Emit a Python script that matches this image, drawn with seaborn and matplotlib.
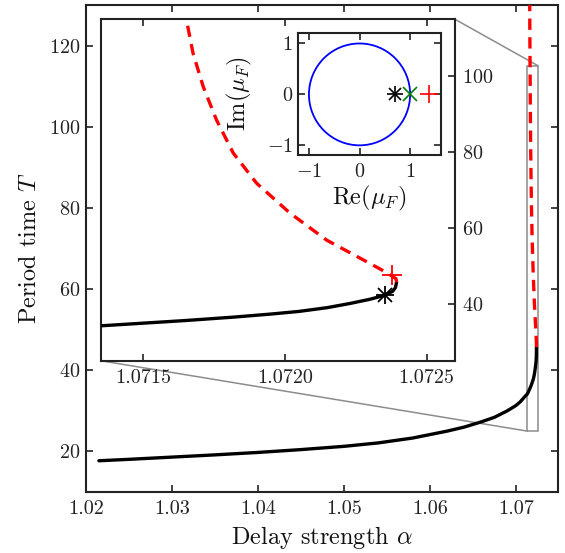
import numpy as np
import pandas as pd
import matplotlib
matplotlib.use("Agg")
import matplotlib.pyplot as plt
import seaborn as sns
from matplotlib.patches import Circle
from matplotlib.ticker import FixedLocator, FixedFormatter
from mpl_toolkits.axes_grid1.inset_locator import mark_inset

# ---------------- data ----------------
stable_alpha = [1.0215, 1.0250, 1.0300, 1.0350, 1.0400, 1.0450, 1.0500,
                1.0540, 1.0580, 1.0620, 1.0640, 1.0660, 1.0675, 1.0690,
                1.0700, 1.0705, 1.0710, 1.07135, 1.07150, 1.07165, 1.07182,
                1.07195, 1.07205, 1.07215, 1.07223, 1.07230, 1.07235,
                1.07238, 1.07239, 1.072394]
stable_T = [17.7, 18.05, 18.6, 19.15, 19.75, 20.45, 21.25,
            22.1, 23.3, 25.0, 26.0, 27.3, 28.4, 30.0,
            31.3, 32.2, 33.4, 34.2, 34.9, 35.6, 36.5,
            37.3, 38.0, 39.0, 40.1, 41.2, 42.2,
            43.3, 44.3, 45.7]

unstable_alpha = [1.072394, 1.072392, 1.072376, 1.072340, 1.072276,
                  1.072147, 1.072018, 1.071900, 1.071818, 1.071759,
                  1.071712, 1.071676, 1.071653, 1.071630, 1.071610,
                  1.071600]
unstable_T = [45.7, 46.6, 47.4, 49.0, 51.6,
              56.8, 63.9, 71.8, 79.7, 88.4,
              97.2, 106.0, 114.7, 122.0, 130.0,
              136.0]

star_alpha, star_T = 1.072353, 42.3      # black asterisk
plus_alpha, plus_T = 1.072376, 47.6      # red plus

floquet_black_re, floquet_black_im = 0.70, 0.0
floquet_green_re, floquet_green_im = 1.00, 0.0
floquet_red_re, floquet_red_im = 1.37, 0.0

main_xticks = [1.02, 1.03, 1.04, 1.05, 1.06, 1.07]
main_xticklabels = ["1.02", "1.03", "1.04", "1.05", "1.06", "1.07"]
main_yticks = [20, 40, 60, 80, 100, 120]
inset_xticks = [1.0715, 1.0720, 1.0725]
inset_xticklabels = ["1.0715", "1.0720", "1.0725"]
inset_yticks = [40, 60, 80, 100]
circle_ticks = [-1, 0, 1]

# ---------------- style ----------------
sns.set_theme(style="ticks")
plt.rcParams.update({
    "font.family": "serif",
    "font.serif": ["cmr10"],
    "mathtext.fontset": "cm",
    "axes.formatter.use_mathtext": True,
    "axes.unicode_minus": True,
    "axes.linewidth": 1.5,
    "axes.edgecolor": "#222222",
    "xtick.color": "#222222",
    "ytick.color": "#222222",
    "xtick.labelcolor": "#222222",
    "ytick.labelcolor": "#222222",
    "axes.labelcolor": "#111111",
})

TICK_FS = 14.5
LABEL_FS = 17.5
LW = 2.4
DASH = [3.4, 2.2]

fig = plt.figure(figsize=(5.65, 5.53), dpi=100)

# ---------------- main axes ----------------
ax = fig.add_axes([0.1522, 0.1103, 0.8354, 0.8807])
sns.lineplot(x=stable_alpha, y=stable_T, ax=ax, color="black", lw=LW,
             sort=False, estimator=None, zorder=3)
sns.lineplot(x=unstable_alpha, y=unstable_T, ax=ax, color="red", lw=LW,
             sort=False, estimator=None, zorder=3)
ax.lines[-1].set_dashes(DASH)
ax.set_xlim(1.02, 1.0749)
ax.set_ylim(10, 130)
ax.xaxis.set_major_locator(FixedLocator(main_xticks))
ax.xaxis.set_major_formatter(FixedFormatter(main_xticklabels))
ax.yaxis.set_major_locator(FixedLocator(main_yticks))
ax.tick_params(direction="in", top=True, right=True, length=5, width=1.2,
               labelsize=TICK_FS)
ax.tick_params(axis="x", pad=6)
ax.tick_params(axis="y", pad=4)
ax.set_xlabel(r"Delay strength $\alpha$", fontsize=LABEL_FS, labelpad=4)
ax.set_ylabel(r"Period time $T$", fontsize=LABEL_FS, labelpad=6)

# ---------------- zoom inset ----------------
axin = fig.add_axes([0.1782, 0.3477, 0.6271, 0.6174])
sns.lineplot(x=stable_alpha, y=stable_T, ax=axin, color="black", lw=LW,
             sort=False, estimator=None, zorder=3)
sns.lineplot(x=unstable_alpha, y=unstable_T, ax=axin, color="red", lw=LW,
             sort=False, estimator=None, zorder=3)
axin.lines[-1].set_dashes(DASH)
axin.plot([star_alpha], [star_T], marker="+", color="black", ms=13, mew=1.3,
          ls="none", zorder=4)
axin.plot([star_alpha], [star_T], marker="x", color="black", ms=10, mew=1.3,
          ls="none", zorder=4)
axin.plot([plus_alpha], [plus_T], marker="+", color="red", ms=15, mew=1.3,
          ls="none", zorder=4)
axin.set_xlim(1.07135, 1.0726)
axin.set_ylim(25, 115)
axin.xaxis.set_major_locator(FixedLocator(inset_xticks))
axin.xaxis.set_major_formatter(FixedFormatter(inset_xticklabels))
axin.yaxis.set_major_locator(FixedLocator(inset_yticks))
axin.tick_params(axis="x", direction="in", top=True, bottom=True, length=5,
                 width=1.2, labelsize=TICK_FS, pad=6)
axin.tick_params(axis="y", direction="in", left=False, right=True,
                 labelleft=False, labelright=True, length=5, width=1.2,
                 labelsize=TICK_FS, pad=5)
axin.set_xlabel("")
axin.set_ylabel("")

# zoom rectangle + connectors (upper-right and lower-left corners)
rect, con1, con2 = mark_inset(ax, axin, loc1=1, loc2=3, fc="none",
                              ec="0.55", lw=1.1)
rect.set_zorder(1.5)
for con in (con1, con2):
    con.remove()
    ax.add_artist(con)
    con.set_clip_on(False)
    con.set_zorder(1.5)

# ---------------- Floquet multipliers inset ----------------
axc = fig.add_axes([0.5280, 0.7197, 0.2525, 0.2201])
axc.add_patch(Circle((0, 0), 1.0, fill=False, ec="blue", lw=1.3))
axc.plot([floquet_black_re], [floquet_black_im], marker="+", color="black",
         ms=11, mew=1.2, ls="none")
axc.plot([floquet_black_re], [floquet_black_im], marker="x", color="black",
         ms=8.5, mew=1.2, ls="none")
axc.plot([floquet_green_re], [floquet_green_im], marker="x", color="green",
         ms=9.5, mew=1.2, ls="none")
axc.plot([floquet_red_re], [floquet_red_im], marker="+", color="red",
         ms=12.5, mew=1.2, ls="none")
axc.set_xlim(-1.21, 1.61)
axc.set_ylim(-1.19, 1.2)
axc.xaxis.set_major_locator(FixedLocator(circle_ticks))
axc.yaxis.set_major_locator(FixedLocator(circle_ticks))
axc.tick_params(direction="in", top=True, right=True, length=5, width=1.2,
                labelsize=TICK_FS)
axc.tick_params(axis="x", pad=6)
axc.tick_params(axis="y", pad=4)
axc.set_xlabel(r"$\mathrm{Re}(\mu_F)$", fontsize=LABEL_FS, labelpad=2)
axc.set_ylabel(r"$\mathrm{Im}(\mu_F)$", fontsize=LABEL_FS, labelpad=9)

fig.savefig("out.png", dpi=100)
